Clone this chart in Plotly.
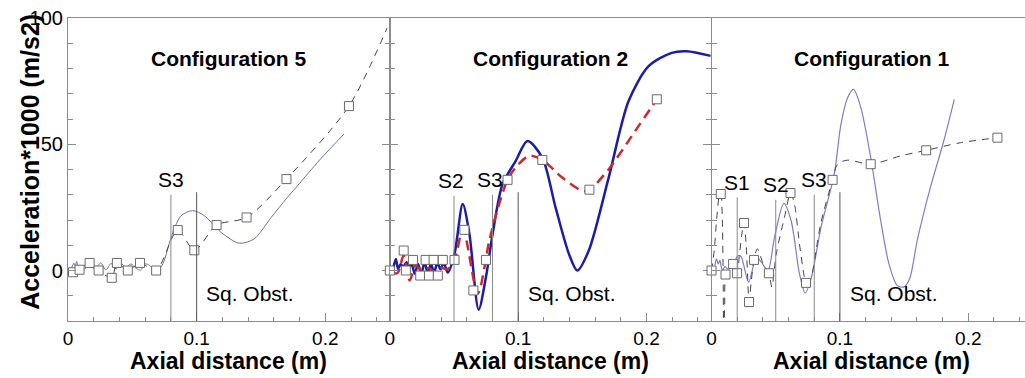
import plotly.graph_objects as go

# ---------------- Configuration 5 ----------------
c5_exp_x = [0.0039, 0.009, 0.0168, 0.0238, 0.034, 0.038, 0.0465, 0.056, 0.0685,
            0.0853, 0.0982, 0.1155, 0.1388, 0.1698, 0.2184]
c5_exp_y = [-0.7, 0.3, 3.0, 0.0, -2.9, 3.0, 0.0, 3.0, 0.0,
            16.0, 8.0, 18.0, 21.0, 36.2, 65.1]
# dashed fit through the measured points, continuing to the frame
c5_fit_x = c5_exp_x + [0.248]
c5_fit_y = c5_exp_y + [96.0]
# simulated signal
c5_sim_x = [0.002, 0.0047, 0.0057, 0.0067, 0.0078, 0.009, 0.012, 0.0165, 0.021, 0.0255,
            0.0295, 0.0335, 0.0375, 0.041, 0.045, 0.049, 0.053, 0.0565, 0.060, 0.0635,
            0.067, 0.071, 0.0745, 0.078, 0.0815, 0.0879, 0.0969, 0.106, 0.119, 0.1331,
            0.1447, 0.1579, 0.1698, 0.1783, 0.196, 0.2145]
c5_sim_y = [0.0, 2.9, 1.6, 3.6, 1.8, 0.5, 0.2, 2.2, 0.6, 3.0,
            0.2, 2.8, 0.6, 2.8, 1.2, 2.6, 0.8, 0.2, 2.6, 2.0,
            0.4, 0.6, 3.5, 9.5, 15.1, 21.7, 23.7, 21.7, 15.1, 10.8,
            12.5, 21.0, 28.5, 33.5, 44.0, 54.0]
c5_sensor_names = ["S3"]
c5_sensor_x = [0.08]
c5_sensor_top = [30]

# ---------------- Configuration 2 ----------------
c2_exp_x = [0.0, 0.0108, 0.0125, 0.018, 0.0237, 0.0279, 0.0305, 0.0341, 0.0374, 0.0413,
            0.0504, 0.0581, 0.0651, 0.0749, 0.0917, 0.1188, 0.1555, 0.208]
c2_exp_y = [0.0, 7.9, 0.0, 4.2, -2.0, 4.2, -2.0, 4.2, -2.0, 4.2,
            4.2, 16.1, -7.9, 4.2, 35.9, 43.8, 32.0, 67.8]
c2_fit_x = [0.002, 0.006, 0.0108, 0.0155, 0.02, 0.025, 0.03, 0.035, 0.04, 0.045,
            0.0504, 0.057, 0.0685, 0.0775, 0.084, 0.0917, 0.098, 0.1085, 0.1188, 0.1343,
            0.1498, 0.1555, 0.1705, 0.1912, 0.208]
c2_fit_y = [-1.0, -1.0, 6.0, -4.0, 2.0, 0.0, 1.0, -0.5, 1.0, 0.5,
            4.0, 16.5, -9.2, 11.8, 24.3, 35.9, 40.8, 45.4, 43.8, 36.8,
            31.6, 32.0, 40.1, 55.3, 67.8]
c2_sim_x = [0.002, 0.0047, 0.0064, 0.0085, 0.0105, 0.013, 0.015, 0.0168, 0.0194, 0.022,
            0.0245, 0.0271, 0.0297, 0.032, 0.0345, 0.037, 0.0395, 0.042, 0.0452, 0.0504,
            0.0568, 0.062, 0.0692, 0.0749, 0.0801, 0.0878, 0.0981, 0.1072, 0.1188, 0.1291,
            0.1395, 0.146, 0.155, 0.1705, 0.186, 0.2016, 0.2196, 0.2312, 0.25]
c2_sim_y = [-0.5, 4.6, 0.7, 2.5, 1.5, 3.3, 0.8, 3.3, -1.3, 2.6,
            -1.3, 3.3, -1.5, 2.8, -1.0, 3.2, 0.5, 3.0, -0.8, 6.6,
            26.3, 14.5, -15.5, -2.6, 14.5, 34.2, 43.4, 51.3, 44.7, 25.0,
            6.6, 0.0, 7.9, 36.8, 67.1, 80.9, 86.2, 86.8, 85.0]
c2_sensor_names = ["S2", "S3"]
c2_sensor_x = [0.05, 0.08]
c2_sensor_top = [29.6, 30]

# ---------------- Configuration 1 ----------------
c1_exp_x = [0.0, 0.0072, 0.0109, 0.0168, 0.0199, 0.0253, 0.0292, 0.0331, 0.0447,
            0.0615, 0.0736, 0.0943, 0.124, 0.1672, 0.2227]
c1_exp_y = [0.0, 30.3, -1.6, 2.6, -1.1, 18.8, -12.5, 4.2, -1.1,
            30.7, -4.9, 35.9, 42.1, 47.6, 52.6]
c1_fit_x = [0.0, 0.0021, 0.0039, 0.0064, 0.0072, 0.0083, 0.009, 0.0095, 0.0102, 0.0109,
            0.0135, 0.0168, 0.0199, 0.0215, 0.0235, 0.0253, 0.027, 0.0283, 0.0292, 0.031,
            0.0331, 0.0357, 0.040, 0.0447, 0.047, 0.0504, 0.0568, 0.0615, 0.0646, 0.0685,
            0.0723, 0.0736, 0.0775, 0.0814, 0.0853, 0.0943, 0.0982, 0.106, 0.124, 0.1473,
            0.1672, 0.1938, 0.2227]
c1_fit_y = [0.0, 7.9, 19.7, 30.3, 30.3, 22.0, 0.0, -25.0, -15.0, -1.6,
            2.0, 2.6, -1.1, 5.0, 14.0, 18.8, 10.0, -5.0, -12.5, -4.0,
            4.2, 8.6, 3.0, -1.1, -6.6, 6.6, 21.0, 30.7, 26.3, 10.5,
            -2.6, -4.9, -2.6, 7.9, 19.1, 35.9, 42.1, 43.7, 42.1, 45.4,
            47.6, 50.6, 52.6]
c1_sim_x = [0.0026, 0.0039, 0.0052, 0.0065, 0.0075, 0.0085, 0.0105, 0.013, 0.0165, 0.0207,
            0.023, 0.0289, 0.0349, 0.0388, 0.0439, 0.0491, 0.0563, 0.062, 0.0685, 0.0729,
            0.0775, 0.0853, 0.0956, 0.1008, 0.106, 0.1106, 0.1163, 0.124, 0.1318, 0.1382,
            0.1447, 0.150, 0.1545, 0.1602, 0.1705, 0.1809, 0.1891]
c1_sim_y = [2.0, 4.6, 2.6, 4.0, 1.5, 0.0, 1.5, 0.5, 2.0, 5.9,
            5.5, -4.6, 5.3, 3.3, 0.0, 13.2, 26.6, 19.7, -1.3, -8.9,
            -3.3, 17.1, 38.2, 57.9, 68.4, 71.7, 64.5, 44.7, 19.7, 2.6,
            -6.0, -6.5, -3.0, 11.8, 32.9, 51.3, 67.8]
c1_sensor_names = ["S1", "S2", "S3"]
c1_sensor_x = [0.02, 0.05, 0.08]
c1_sensor_top = [29, 28, 30]

obstacle_x = 0.1
obstacle_top = 31
panel_titles = ["Configuration 5", "Configuration 2", "Configuration 1"]
x_ticks = [0, 0.1, 0.2]
x_tick_text = ["0", "0.1", "0.2"]
y_ticks = [0, 50, 100]

FONT = "Liberation Sans, Arial, sans-serif"
AXIS_GREY = "#8c8c8c"
Y_MIN, Y_MAX = -20, 100

fig = go.Figure()

panels = [
    dict(ax="", exp=(c5_exp_x, c5_exp_y), fit=(c5_fit_x, c5_fit_y), sim=(c5_sim_x, c5_sim_y),
         fit_style=dict(color="#444444", width=1, dash="7px,6px"),
         sim_style=dict(color="#6f6fa8", width=1),
         sensors=(c5_sensor_names, c5_sensor_x, c5_sensor_top), label_shift=0.0),
    dict(ax="2", exp=(c2_exp_x, c2_exp_y), fit=(c2_fit_x, c2_fit_y), sim=(c2_sim_x, c2_sim_y),
         fit_style=dict(color="#cc2a2a", width=2.5, dash="10px,6px"),
         sim_style=dict(color="#1c1ca8", width=2.5),
         sensors=(c2_sensor_names, c2_sensor_x, c2_sensor_top), label_shift=-0.002),
    dict(ax="3", exp=(c1_exp_x, c1_exp_y), fit=(c1_fit_x, c1_fit_y), sim=(c1_sim_x, c1_sim_y),
         fit_style=dict(color="#444444", width=1, dash="7px,6px"),
         sim_style=dict(color="#8878c8", width=1.2),
         sensors=(c1_sensor_names, c1_sensor_x, c1_sensor_top), label_shift=0.0),
]

annotations = []
shapes = []
for i, p in enumerate(panels):
    xa, ya = "x" + p["ax"], "y" + p["ax"]
    fig.add_trace(go.Scatter(x=p["sim"][0], y=p["sim"][1], mode="lines",
                             line=dict(shape="spline", smoothing=0.8, **p["sim_style"]),
                             xaxis=xa, yaxis=ya, showlegend=False, hoverinfo="skip"))
    fig.add_trace(go.Scatter(x=p["fit"][0], y=p["fit"][1], mode="lines",
                             line=dict(shape="spline", smoothing=0.8, **p["fit_style"]),
                             xaxis=xa, yaxis=ya, showlegend=False, hoverinfo="skip"))
    fig.add_trace(go.Scatter(x=p["exp"][0], y=p["exp"][1], mode="markers",
                             marker=dict(symbol="square", size=9, color="white",
                                         line=dict(color="#6a6a6a", width=1)),
                             xaxis=xa, yaxis=ya, showlegend=False, cliponaxis=False))

    names, sx, stop = p["sensors"]
    for name, x0, top in zip(names, sx, stop):
        shapes.append(dict(type="line", xref=xa, yref=ya, x0=x0, x1=x0, y0=Y_MIN, y1=top,
                           line=dict(color="#8a8a8a", width=1)))
        annotations.append(dict(xref=xa, yref=ya, x=x0 + p["label_shift"], y=top + 6, text=name,
                                showarrow=False, font=dict(family=FONT, size=21, color="black"),
                                xanchor="center", yanchor="middle"))
    shapes.append(dict(type="line", xref=xa, yref=ya, x0=obstacle_x, x1=obstacle_x,
                       y0=Y_MIN, y1=obstacle_top, line=dict(color="#555555", width=1)))
    annotations.append(dict(xref=xa, yref=ya, x=obstacle_x + 0.006, y=-9, text="Sq. Obst.",
                            showarrow=False, font=dict(family=FONT, size=21, color="black"),
                            xanchor="left", yanchor="middle"))
    annotations.append(dict(xref=xa, yref=ya, x=0.125, y=84, text="<b>" + panel_titles[i] + "</b>",
                            showarrow=False, font=dict(family=FONT, size=21, color="black"),
                            xanchor="center", yanchor="middle"))
    # axis title below the frame (paper y is relative to the plot area)
    annotations.append(dict(xref=xa, yref="paper", x=0.125, y=-0.133,
                            text="<b>Axial distance (m)</b>",
                            showarrow=False, font=dict(family=FONT, size=23, color="black"),
                            xanchor="center", yanchor="middle"))

annotations.append(dict(xref="paper", yref="paper", x=25 / 1025, y=0.525,
                        text="<b>Acceleration*1000 (m/s2)</b>", textangle=-90,
                        showarrow=False, font=dict(family=FONT, size=25, color="black"),
                        xanchor="center", yanchor="middle"))


def x_axis(domain, rng):
    return dict(domain=domain, range=rng, tickvals=x_ticks, ticktext=x_tick_text,
                ticks="inside", ticklen=8, tickcolor=AXIS_GREY, tickwidth=1,
                showline=True, linecolor=AXIS_GREY, linewidth=1, mirror=True,
                showgrid=False, zeroline=False,
                tickfont=dict(family=FONT, size=19, color="black"),
                minor=dict(tickmode="linear", tick0=0, dtick=0.02, ticks="inside",
                           ticklen=4, tickcolor=AXIS_GREY, showgrid=False))


def y_axis(anchor, labels, mirror):
    return dict(anchor=anchor, domain=[0, 1], range=[Y_MIN, Y_MAX], tickvals=y_ticks,
                showticklabels=labels, ticks="inside", ticklen=8, tickcolor=AXIS_GREY,
                showline=True, linecolor=AXIS_GREY, linewidth=1, mirror=mirror,
                showgrid=False, zeroline=False,
                tickfont=dict(family=FONT, size=20, color="black"),
                minor=dict(tickmode="linear", tick0=0, dtick=10, ticks="inside",
                           ticklen=5, tickcolor=AXIS_GREY, showgrid=False))


W = 1025.0
fig.update_layout(
    width=1025, height=378,
    margin=dict(l=0, r=0, t=18, b=57),
    paper_bgcolor="white", plot_bgcolor="white",
    xaxis=dict(anchor="y", **x_axis([63.3 / W, 386.5 / W], [0, 0.25])),
    xaxis2=dict(anchor="y2", **x_axis([386.7 / W, 709.2 / W], [0, 0.25])),
    xaxis3=dict(anchor="y3", **x_axis([710 / W, 1.0], [0, 315 / 1290])),
    yaxis=y_axis("x", True, "ticks"),
    yaxis2=y_axis("x2", False, "ticks"),
    yaxis3=y_axis("x3", False, False),
    annotations=annotations,
    shapes=shapes,
    font=dict(family=FONT),
)

fig.write_html("out.html")
